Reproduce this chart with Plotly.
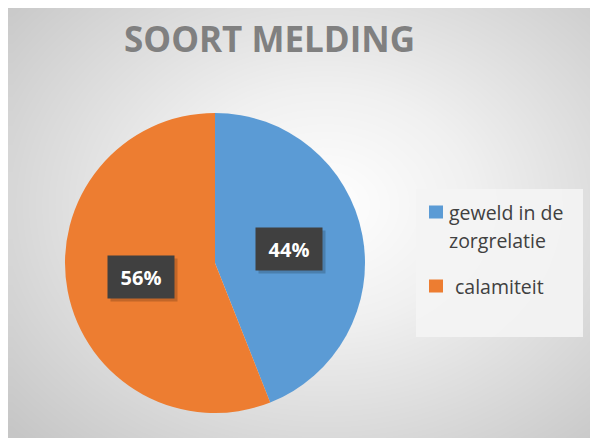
import numpy as np
import textwrap
import plotly.graph_objects as go

# ---- data ----
labels = ["geweld in de zorgrelatie", "calamiteit"]
values = [44, 56]
colors = ["#5B9BD5", "#ED7D31"]
title = "SOORT MELDING"

W, H = 598, 438
OFF = 8  # page body margin compensation

fig = go.Figure()

# background radial gradient (chart area)
gx = np.linspace(12, W + OFF, 70)
gy = np.linspace(6, H + OFF, 52)
X, Y = np.meshgrid(gx, gy)
cx, cy = 325, 205
d = np.sqrt(((X - cx) / 300.0) ** 2 + ((Y - cy) / 235.0) ** 2) / np.sqrt(2)
d = np.clip(d, 0, 1)
fig.add_trace(go.Heatmap(x=gx, y=gy, z=d, zmin=0, zmax=1, zsmooth="best",
                         colorscale=[[0, "#ffffff"], [0.35, "#f0f0f0"], [1, "#c6c6c6"]],
                         showscale=False, hoverinfo="skip"))

# pie
pcx, pcy, R = 215, 263, 150
fig.add_trace(go.Pie(labels=labels, values=values, sort=False, direction="clockwise",
                     rotation=0, marker=dict(colors=colors, line=dict(width=0)),
                     textinfo="none", hoverinfo="label+percent", showlegend=False,
                     domain=dict(x=[(pcx - R - OFF) / W, (pcx + R - OFF) / W],
                                 y=[1 - (pcy + R - OFF) / H, 1 - (pcy - R - OFF) / H])))

annotations = []
shapes = []

# data labels at mid-angle of slices
total = sum(values)
cum = 0
for v in values:
    mid = (cum + v / 2) / total * 2 * np.pi
    cum += v
    lx = pcx + 0.5 * R * np.sin(mid)
    ly = pcy - 0.5 * R * np.cos(mid)
    pct = f"{round(v / total * 100)}%"
    annotations.append(dict(x=lx + 3, y=ly + 3, xref="x", yref="y", text="", showarrow=False,
                            width=64, height=40, bgcolor="rgba(0,0,0,0.18)"))
    annotations.append(dict(x=lx, y=ly, xref="x", yref="y", text=f"<b>{pct}</b>", showarrow=False,
                            width=64, height=40, bgcolor="#404040",
                            font=dict(family="Open Sans", size=20, color="#ffffff")))

# title
annotations.append(dict(x=269, y=38, xref="x", yref="y", text=f"<b>{title}</b>", showarrow=False,
                        xanchor="center", yanchor="middle",
                        font=dict(family="Open Sans", size=35, color="#808080")))

# legend box
shapes.append(dict(type="rect", xref="x", yref="y", x0=416, x1=583, y0=189, y1=337,
                   fillcolor="rgba(244,244,244,0.9)", line=dict(width=0), layer="above"))
item_y = [212, 286]
for i, (lab, col) in enumerate(zip(labels, colors)):
    yc = item_y[i]
    shapes.append(dict(type="rect", xref="x", yref="y", x0=429, x1=443, y0=yc - 6.5, y1=yc + 6.5,
                       fillcolor=col, line=dict(width=0), layer="above"))
    lines = textwrap.wrap(lab, 12)
    for j, ln in enumerate(lines):
        annotations.append(dict(x=447 if i == 0 else 453, y=yc + j * 28, xref="x", yref="y",
                                text=ln, showarrow=False, xanchor="left", yanchor="middle",
                                font=dict(family="Open Sans", size=19.5, color="#404040")))

fig.update_layout(
    width=W, height=H, margin=dict(l=0, r=0, t=0, b=0),
    paper_bgcolor="#ffffff", plot_bgcolor="#ffffff",
    xaxis=dict(range=[OFF, W + OFF], visible=False, fixedrange=True),
    yaxis=dict(range=[H + OFF, OFF], visible=False, fixedrange=True),
    annotations=annotations, shapes=shapes, showlegend=False,
)

fig.write_html("out.html")
